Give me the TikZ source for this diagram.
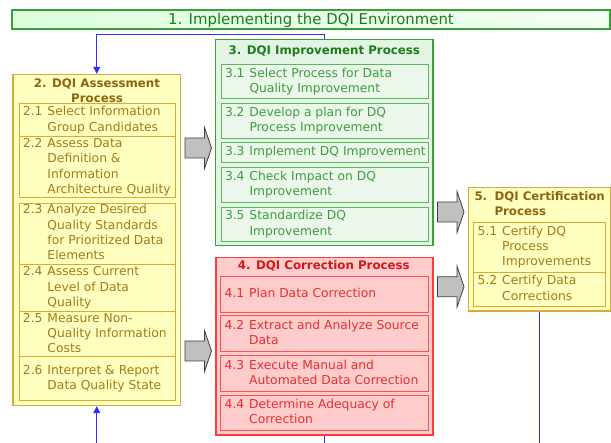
\documentclass[tikz,border=0pt]{standalone}
\usepackage{fontspec}
\setmainfont{DejaVu Sans}
\usetikzlibrary{arrows.meta}
\definecolor{ybody}{HTML}{A07C1C}
\definecolor{ytitle}{HTML}{8B6510}
\definecolor{yfill}{HTML}{FFFFC0}
\definecolor{yedge}{HTML}{DCAA30}
\definecolor{gbody}{HTML}{3E9E3E}
\definecolor{gtitle}{HTML}{1C7C1C}
\definecolor{gfill}{HTML}{E4F4E4}
\definecolor{gfillin}{HTML}{EAF7EA}
\definecolor{gedge}{HTML}{3A9E3A}
\definecolor{gedgein}{HTML}{5CB85C}
\definecolor{rbody}{HTML}{E53030}
\definecolor{rtitle}{HTML}{D01818}
\definecolor{rfill}{HTML}{FFCCCC}
\definecolor{redge}{HTML}{FF3A3A}
\definecolor{redgein}{HTML}{FF5050}
\definecolor{bline}{HTML}{2F2FFF}
\definecolor{agray}{HTML}{C0C0C0}
\definecolor{aedge}{HTML}{404040}
\newcommand\bodyfont{\fontsize{12.3}{15.3}\selectfont}
\newcommand\titlefont{\fontsize{11.8}{15.4}\selectfont\bfseries}
\newcommand\itm[2]{\makebox[24.5pt][l]{#1}\begin{tabular}[t]{@{}l@{}}#2\end{tabular}}
\newcommand\subbox[8]{%
  \pgfmathsetmacro\bw{#5-#3}\pgfmathsetmacro\bh{#6-#4}\pgfmathsetmacro\tw{#5-#3-8}%
  \node[#2, minimum width=\bw pt, minimum height=\bh pt] (#1) at ({(#3+#5)/2},{(#4+#6)/2}) {\makebox[\tw pt][l]{\itm{#7}{#8}}};}
\newcommand\bigbox[6]{%
  \pgfmathsetmacro\bw{#5-#3}\pgfmathsetmacro\bh{#6-#4}%
  \node[#2, minimum width=\bw pt, minimum height=\bh pt, inner sep=0pt] (#1) at ({(#3+#5)/2},{(#4+#6)/2}) {};}
\tikzset{
  sub/.style={draw, rectangle, inner xsep=4pt, inner ysep=0pt, line width=1pt, font=\bodyfont},
  ysub/.style={sub, draw=yedge, fill=yfill, text=ybody},
  gsub/.style={sub, draw=gedgein, fill=gfillin, text=gbody},
  rsub/.style={sub, draw=redgein, fill=rfill, text=rbody},
  ybig/.style={draw=yedge, fill=yfill, line width=1.4pt},
  gbig/.style={draw=gedge, fill=gfill, line width=1.1pt},
  rbig/.style={draw=redge, fill=rfill, line width=1.1pt},
  ttl/.style={inner sep=0pt, font=\titlefont},
  conn/.style={draw=bline, line width=1pt},
  tip/.style={-{Triangle[width=7pt,length=7pt]}},
  blockarrow/.pic={\draw[fill=agray, draw=aedge, line width=0.8pt]
     (0,-10) -- (19.5,-10) -- (19.5,-20.5) -- (26.5,0) -- (19.5,20.5) -- (19.5,10) -- (0,10) -- cycle;}
}
\begin{document}
\begin{tikzpicture}[x=1pt,y=-1pt]
\useasboundingbox (0,0) rectangle (611,443);
% banner
\node[draw=gedge, line width=1.1pt, left color=green!14!white, right color=green!5!white,
      minimum width=598pt, inner ysep=0pt, text height=15pt, text depth=4pt,
      font=\fontsize{14.9}{17}\selectfont, text=gtitle] (b1) at (311,19.5) {1. Implementing the DQI Environment};
% big boxes
\bigbox{b2}{ybig}{13}{74.5}{180.5}{405.5}
\bigbox{b3}{gbig}{215.5}{39.3}{433}{245.5}
\bigbox{b4}{rbig}{216}{257.5}{433}{435}
\bigbox{b5}{ybig}{468.5}{187.5}{610.5}{311}
% titles
\node[ttl, text=ytitle] (t2) at (97,91.9) {\begin{tabular}{@{}c@{}}2. DQI Assessment\\Process\end{tabular}};
\node[ttl, text=gtitle] (t3) at (324.3,51.4) {\begin{tabular}{@{}c@{}}3. DQI Improvement Process\end{tabular}};
\node[ttl, text=rtitle] (t4) at (323.8,266.4) {\begin{tabular}{@{}c@{}}4. DQI Correction Process\end{tabular}};
\node[ttl, text=ytitle, anchor=west] (t5) at (474.3,204.7) {\makebox[20pt][l]{5.}\begin{tabular}[t]{@{}l@{}}DQI Certification\\Process\end{tabular}};
% box 2 items
\subbox{s21}{ysub}{19}{103.7}{175.3}{137}{2.1}{Select Information\\Group Candidates}
\subbox{s22}{ysub}{19}{137}{175.3}{197.7}{2.2}{Assess Data\\Definition \&\\Information\\Architecture Quality}
\subbox{s23}{ysub}{19}{203.3}{175.3}{264.3}{2.3}{Analyze Desired\\Quality Standards\\for Prioritized Data\\Elements}
\subbox{s24}{ysub}{19}{264.3}{175.3}{312}{2.4}{Assess Current\\Level of Data\\Quality}
\subbox{s25}{ysub}{19}{312}{175.3}{356.7}{2.5}{Measure Non-\\Quality Information\\Costs}
\subbox{s26}{ysub}{19}{356.7}{175.3}{401}{2.6}{Interpret \& Report\\Data Quality State}
% box 3 items
\subbox{s31}{gsub}{221}{64.3}{428.3}{99}{3.1}{Select Process for Data\\Quality Improvement}
\subbox{s32}{gsub}{221}{103.3}{428.3}{139}{3.2}{Develop a plan for DQ\\Process Improvement}
\subbox{s33}{gsub}{221}{142.7}{428.3}{162.7}{3.3}{Implement DQ Improvement}
\subbox{s34}{gsub}{221}{167.3}{428.3}{202.3}{3.4}{Check Impact on DQ\\Improvement}
\subbox{s35}{gsub}{221}{207.3}{428.3}{241.3}{3.5}{Standardize DQ\\Improvement}
% box 4 items
\subbox{s41}{rsub}{220.7}{276.7}{428.3}{312.3}{4.1}{Plan Data Correction}
\subbox{s42}{rsub}{220.7}{316}{428.3}{351.3}{4.2}{Extract and Analyze Source\\Data}
\subbox{s43}{rsub}{220.7}{356}{428.3}{391.3}{4.3}{Execute Manual and\\Automated Data Correction}
\subbox{s44}{rsub}{220.7}{395.3}{428.3}{430.5}{4.4}{Determine Adequacy of\\Correction}
% box 5 items
\subbox{s51}{ysub}{473.7}{222.3}{605.7}{272.3}{5.1}{Certify DQ\\Process\\Improvements}
\subbox{s52}{ysub}{473.7}{272.3}{605.7}{306.3}{5.2}{Certify Data\\Corrections}
% block arrows
\pic at (185,148) {blockarrow};
\pic at (185,351) {blockarrow};
\pic at (437.5,212) {blockarrow};
\pic at (437.5,286.7) {blockarrow};
% connectors
\coordinate (ytop) at (0,34.5);
\coordinate (ybot) at (0,443);
\coordinate (e2) at (b2.south |- ybot);
\coordinate (e4) at (b4.south |- ybot);
\coordinate (e5) at (b5.south |- ybot);
\draw[conn, tip] (b3.north) -- (b3.north |- ytop) -| (b2.north);
\draw[conn, tip] (e2) -- (b2.south);
\draw[conn] (b4.south) -- (e4);
\draw[conn] (b5.south) -- (e5);
\end{tikzpicture}
\end{document}
